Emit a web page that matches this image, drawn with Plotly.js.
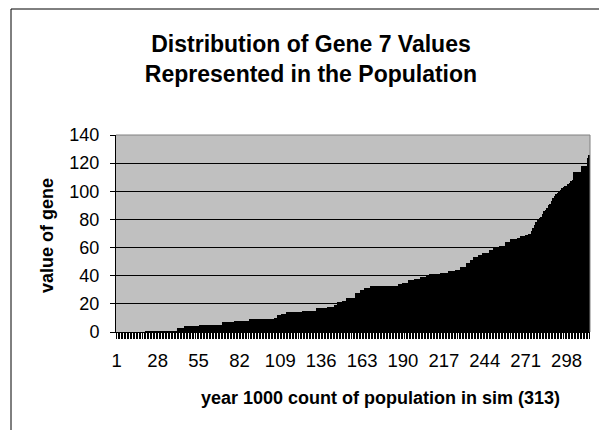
<!DOCTYPE html>
<html>
<head>
<meta charset="utf-8">
<script src="https://cdn.plot.ly/plotly-3.0.1.min.js"></script>
<style>
  html, body { margin: 0; padding: 0; background: #fff; }
  #chart { width: 599px; height: 430px; }
</style>
</head>
<body>
<div id="chart"></div>
<script>
// Gene 7 values, sorted ascending, one per member of the population (313)
const geneValues = [
  0,0,0,0,0,0,0,0,0,0,0,0,0,0,0,0,0,0,0,
  1,1,1,1,1,1,1,1,1,1,1,1,1,1,1,1,1,1,1,1,1,
  3,3,3,3,3, 4,4,4,4,4,4,4,4,4,4,
  5,5,5,5,5,5,5,5,5,5,5,5,5,5,5,
  7,7,7,7,7,7,7,7, 8,8,8,8,8,8,8,8,8,8,
  9,9,9,9,9,9,9,9,9,9,9,9,9,9,9,9,
  10,10, 12,12,12, 13,13,13, 14,14,14,14,14,14,14,14,14,14,14,
  15,15,15,15,15,15,15,15,15, 17,17,17,17,17,17,17, 18,18,18,18,18,
  19,19, 21,21,21, 22,22,22, 24,24,24,24,24,24, 28,28,28, 30,30,30, 31,31,31,31,
  33,33,33,33,33,33,33,33,33,33,33,33,33,33,33,33,33,33,
  34,34,34, 35,35,35,35, 37,37,37,37, 38,38,38,38, 39,39,39,39, 40,40,
  41,41,41,41,41,41,41, 42,42,42,42,42, 43,43,43,43,43, 44,44,44,
  46,46,46,46, 49,49,49, 51,51, 53,53,53, 55,55,55, 56,56,56,56,
  58,58,58, 60,60,60,60, 61,61,61,61, 64,64,64, 66,66,66,66,66, 67,67,
  68,68,68, 69,69, 70,70, 72,74,76,78,80,81,82,84,86,87,88,90,91,93,95,97,98,99,100,101,102,103,104,104,105,106,107,108,
  114,114,114,114,114, 118,118,118,118, 124,126
];
// Category positions (population members 1..313)
const members = geneValues.map((v, i) => i + 1);
// Category labels shown on the x axis
const xTickLabels = ["1","28","55","82","109","136","163","190","217","244","271","298"];
// y axis tick values
const yTicks = [0, 20, 40, 60, 80, 100, 120, 140];

const chartTitle = "Distribution of Gene 7 Values<br>Represented in the Population";
const xTitle = "year 1000 count of population in sim (313)";
const yTitle = "value of gene";

const FONT = "Liberation Sans, Arial, sans-serif";

const tickText = members.map(m => xTickLabels.indexOf(String(m)) >= 0 ? String(m) : "");

const W = 599, H = 430;
const mL = 116, mR = 9, mT = 135, mB = 98;
const pw = W - mL - mR, ph = H - mT - mB;
const px = x => (x - mL) / pw;          // pixel x -> paper x
const py = y => (H - mB - y) / ph;      // pixel y -> paper y

const data = [{
  type: "bar",
  x: members,
  y: geneValues,
  marker: { color: "#000000", line: { width: 0 } },
  hoverinfo: "x+y"
}];

const layout = {
  width: W, height: H,
  margin: { l: mL, r: mR, t: mT, b: mB, pad: 0 },
  paper_bgcolor: "#ffffff",
  plot_bgcolor: "#c0c0c0",
  bargap: 0,
  showlegend: false,
  font: { family: FONT, size: 18, color: "#000" },
  title: {
    text: chartTitle,
    font: { family: FONT, size: 23, color: "#000", weight: "bold" },
    xref: "container", x: 311 / W, xanchor: "center",
    yref: "container", y: 1 - 52 / H, yanchor: "top"
  },
  xaxis: {
    range: [0.5, members.length + 0.5],
    tickmode: "array",
    tickvals: members,
    ticktext: tickText,
    tickangle: 0,
    ticks: "outside", ticklen: 6, tickwidth: 1, tickcolor: "#000",
    ticklabelstandoff: 6,
    showline: true, linecolor: "#000", linewidth: 1,
    showgrid: false, zeroline: false,
    tickfont: { family: FONT, size: 18.5, color: "#000" },
    fixedrange: true
  },
  yaxis: {
    range: [0, 140],
    tickmode: "array",
    tickvals: yTicks,
    ticktext: yTicks.map(String),
    ticks: "outside", ticklen: 5, tickwidth: 1, tickcolor: "#000",
    ticklabelstandoff: 7,
    showline: true, linecolor: "#000", linewidth: 1,
    showgrid: true, gridcolor: "#000", gridwidth: 1,
    zeroline: false,
    tickfont: { family: FONT, size: 18, color: "#000" },
    fixedrange: true
  },
  shapes: [
    { type: "line", xref: "paper", yref: "paper", x0: 0, x1: 1, y0: 1, y1: 1,
      line: { color: "#808080", width: 1 } },
    { type: "line", xref: "paper", yref: "paper", x0: 1, x1: 1, y0: 0, y1: 1,
      line: { color: "#808080", width: 1 } },
    { type: "rect", xref: "paper", yref: "paper",
      x0: px(11), x1: px(W + 30), y0: py(H + 30), y1: py(9),
      line: { color: "#000", width: 1 }, fillcolor: "rgba(0,0,0,0)" }
  ],
  annotations: [
    { text: xTitle, xref: "paper", yref: "paper", x: px(380), y: py(398),
      xanchor: "center", yanchor: "middle", showarrow: false,
      font: { family: FONT, size: 18, color: "#000", weight: "bold" } },
    { text: yTitle, xref: "paper", yref: "paper", x: px(47), y: py(236),
      xanchor: "center", yanchor: "middle", showarrow: false, textangle: -90,
      font: { family: FONT, size: 18, color: "#000", weight: "bold" } }
  ]
};

Plotly.newPlot("chart", data, layout, { displayModeBar: false, staticPlot: true });
</script>
</body>
</html>
